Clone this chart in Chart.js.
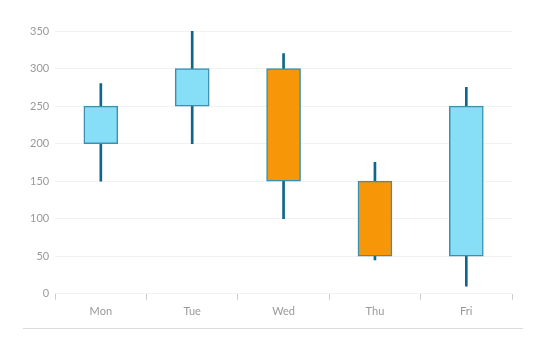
<!DOCTYPE html>
<html>
<head>
<meta charset="utf-8">
<script src="https://cdn.jsdelivr.net/npm/chart.js@4.4.0/dist/chart.umd.min.js"></script>
<style>
  body { margin: 0; background: #fff; }
  #wrap { position: relative; width: 550px; height: 350px; }
  #sep { position: absolute; left: 23px; top: 328px; width: 500px; height: 1px; background: #dcdcdc; }
</style>
</head>
<body>
<div id="wrap">
  <canvas id="candleChart" width="550" height="328"></canvas>
  <div id="sep"></div>
</div>
<script>
// dane świec
const days = ['Mon', 'Tue', 'Wed', 'Thu', 'Fri'];
const openValues = [200, 250, 300, 150, 50];
const closeValues = [250, 300, 150, 50, 250];
const highValues = [280, 350, 320, 175, 275];
const lowValues = [150, 200, 100, 45, 10];

const upColor = '#86dff7';
const downColor = '#f79606';

const bodies = days.map((d, i) => [openValues[i], closeValues[i]]);
const wicks = days.map((d, i) => [lowValues[i], highValues[i]]);
const bodyColors = days.map((d, i) => closeValues[i] >= openValues[i] ? upColor : downColor);

const ctx = document.getElementById('candleChart');

new Chart(ctx, {
    type: 'bar',
    data: {
        labels: days,
        datasets: [{
            label: 'body',
            data: bodies,
            backgroundColor: bodyColors,
            borderColor: '#3d8fb0',
            borderWidth: 1.5,
            borderSkipped: false,
            barThickness: 34
        }, {
            label: 'wick',
            data: wicks,
            backgroundColor: '#0f6688',
            borderWidth: 0,
            barThickness: 2
        }]
    },
    options: {
        responsive: false,
        animation: false,
        layout: {
            padding: { left: 24, right: 38, top: 31, bottom: 5 }
        },
        plugins: {
            legend: { display: false },
            tooltip: { enabled: false }
        },
        scales: {
            x: {
                grid: {
                    drawOnChartArea: false,
                    drawTicks: true,
                    tickLength: 6,
                    color: '#cccccc',
                    offset: true
                },
                border: { display: false },
                ticks: {
                    color: '#999999',
                    font: { family: 'Lato', size: 11 },
                    padding: 5
                }
            },
            y: {
                min: 0,
                max: 350,
                ticks: {
                    stepSize: 50,
                    color: '#999999',
                    font: { family: 'Lato', size: 11 },
                    padding: 6
                },
                grid: {
                    color: '#f2f2f2',
                    drawTicks: false
                },
                border: { display: false }
            }
        },
        datasets: {
            bar: { grouped: false }
        }
    }
});
</script>
</body>
</html>
